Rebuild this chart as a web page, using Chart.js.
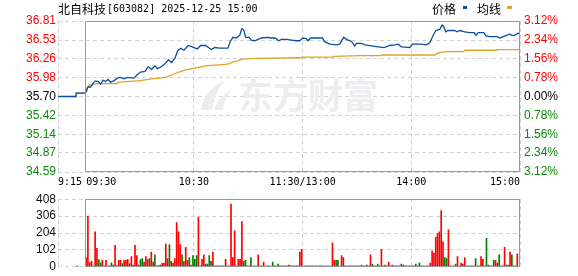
<!doctype html>
<html lang="zh">
<head>
<meta charset="utf-8">
<title>北自科技 分时</title>
<style>
  * { margin: 0; padding: 0; }
  body { width: 578px; height: 276px; background: #fff; position: relative; overflow: hidden; }
  #priceChart { position: absolute; left: 0; top: 0; }
  #volumeChart { position: absolute; left: 0; top: 190px; }
</style>
</head>
<body>
<canvas id="priceChart" width="578" height="190"></canvas>
<canvas id="volumeChart" width="578" height="86"></canvas>
<script src="https://cdn.jsdelivr.net/npm/chart.js/dist/chart.umd.min.js"></script>
<script>
// setup
const stockName = '北自科技';
const stockInfo = '[603082] 2025-12-25 15:00';
const preClose = 35.70;

// minutes after 9:30 (negative = call auction from 9:15)
const priceTimes = [-15, -5, -5, 0, 0.6, 1.5, 3, 4.2, 5.7, 7.2, 8.5, 9.8, 11.2, 12.7, 14, 15.8, 17.7, 19.5, 21.4, 23.2,
  26.9, 28.7, 30.6, 33, 34.8, 36.7, 38.5, 39.8, 42.2, 44, 45.9, 47.7, 49.5, 51, 52.7, 54.5, 56.9, 59.1, 61.9, 63.7,
  66.5, 69.6, 71.5, 74.2, 78.8, 80.1, 81.6, 83.5, 85.3, 86.5, 87.5, 88.6, 90.5, 91.7, 93.6, 95.4, 97.3, 100.9, 102.5, 105,
  106.8, 108.3, 111, 113.8, 116.5, 118.4, 120.2, 122, 123, 124.5, 131, 131.9, 135, 138.7, 140.5, 142.7, 144.2, 147, 148.8, 149.7,
  152.5, 154.3, 158.9, 161.7, 165, 168.1, 170.9, 172.7, 174.6, 179.2, 180.7, 185, 188.4, 190.2, 192.1, 193.6, 195.8, 197, 197.9, 199,
  200.4, 204, 205.3, 206.8, 209.6, 212.3, 214.8, 215.7, 216.9, 220, 221.2, 223.4, 227.1, 228.9, 230.7, 232.6, 234.4, 235.3, 237, 239, 240];
const priceValues = [35.70, 35.70, 35.75, 35.75, 35.77, 35.84, 35.84, 35.89, 35.93, 35.92, 35.88, 35.94, 35.92, 35.95, 35.91, 35.93, 35.97, 35.98, 35.96, 35.98,
  35.97, 36.02, 36.06, 36.07, 36.14, 36.10, 36.15, 36.11, 36.14, 36.18, 36.24, 36.20, 36.26, 36.37, 36.41, 36.38, 36.45, 36.43, 36.40, 36.45,
  36.45, 36.39, 36.42, 36.41, 36.41, 36.51, 36.57, 36.56, 36.60, 36.70, 36.68, 36.57, 36.57, 36.53, 36.52, 36.54, 36.56, 36.57, 36.56, 36.56,
  36.52, 36.54, 36.54, 36.53, 36.52, 36.52, 36.56, 36.55, 36.52, 36.56, 36.56, 36.51, 36.47, 36.46, 36.47, 36.57, 36.54, 36.51, 36.44, 36.48,
  36.48, 36.46, 36.44, 36.43, 36.42, 36.45, 36.46, 36.47, 36.43, 36.42, 36.47, 36.47, 36.46, 36.49, 36.60, 36.67, 36.69, 36.75, 36.73, 36.65,
  36.67, 36.67, 36.65, 36.67, 36.65, 36.64, 36.64, 36.60, 36.64, 36.64, 36.59, 36.58, 36.58, 36.56, 36.58, 36.60, 36.62, 36.60, 36.60, 36.63, 36.63];

const avgTimes = [-7, -5, -5, 0, 1, 2, 3.9, 6.7, 17.7, 18.6, 28.8, 37, 44.4, 48, 51.8, 55.4, 59.1, 62.8, 66.5, 75.7,
  79.4, 81.6, 83.5, 87.1, 94.5, 119.4, 120.2, 136.8, 137.8, 151.6, 163, 164, 193, 194, 195.8, 200.4, 209, 209.5, 227, 227.5, 240];
const avgValues = [35.70, 35.70, 35.75, 35.75, 35.82, 35.86, 35.88, 35.89, 35.89, 35.91, 35.93, 35.96, 35.98, 36.02, 36.06, 36.09, 36.11, 36.13, 36.15, 36.17,
  36.18, 36.21, 36.22, 36.25, 36.26, 36.27, 36.28, 36.28, 36.29, 36.30, 36.30, 36.31, 36.31, 36.33, 36.35, 36.36, 36.36, 36.38, 36.38, 36.39, 36.39];

// one bar per minute from 9:30, r = up (red), g = down (green)
const volumes = [
  56, 306, 24, 33, 6, 211, 111, 43, 24, 39,
  6, 39, 6, 6, 24, 11, 130, 6, 39, 39,
  19, 37, 39, 45, 19, 61, 11, 130, 67, 11,
  43, 50, 28, 61, 43, 50, 89, 28, 72, 6,
  8, 11, 22, 22, 139, 50, 134, 33, 22, 50,
  267, 211, 134, 72, 33, 117, 39, 56, 11, 67,
  45, 67, 300, 6, 45, 72, 17, 17, 67, 33,
  89, 6, 6, 6, 6, 6, 6, 45, 6, 6,
  378, 56, 217, 6, 45, 45, 273, 33, 39, 6,
  6, 56, 4, 6, 4, 72, 6, 6, 28, 4,
  6, 6, 4, 28, 6, 6, 17, 6, 6, 6,
  6, 6, 11, 6, 6, 6, 6, 6, 89, 106,
  4, 6, 6, 6, 6, 6, 4, 6, 6, 6,
  6, 6, 4, 6, 6, 4, 145, 39, 39, 39,
  5, 67, 56, 6, 6, 6, 6, 6, 6, 6,
  6, 6, 11, 6, 6, 11, 6, 72, 17, 6,
  6, 17, 6, 106, 6, 11, 6, 28, 6, 11,
  6, 6, 6, 6, 17, 11, 6, 6, 6, 6,
  6, 6, 17, 6, 22, 6, 6, 4, 6, 6,
  22, 95, 83, 178, 200, 211, 339, 150, 56, 50,
  223, 6, 4, 6, 17, 61, 6, 22, 17, 56,
  6, 6, 6, 6, 6, 50, 6, 6, 61, 45,
  6, 172, 11, 6, 6, 39, 39, 22, 72, 6,
  6, 117, 11, 11, 89, 72, 6, 6, 78];
const volumeSides = [
  'rrrrrrrggr', 'grrggrrgrr', 'grrrgrrrrr', 'ggrrrgrrgr', 'rrrrrrggrr',
  'rrrgrrrgrg', 'ggrrrrgggg', 'rrrrggrrrg', 'rrrgrrrggr', 'rggrgrgrrg',
  'rrrgrrgrrr', 'rrrgrrrrrr', 'rrgrrggrrr', 'ggrrrrrrgg', 'rrrggrgrrg',
  'rrrgrgrrgr', 'rgrrgrrrgr', 'grrrgrrrgr', 'rrgrgrgrrr', 'rrrrrrrrgg',
  'rrrrgrrrrr', 'rrrrrgrrrr', 'rggrggrrgr', 'rrrrrgrrr'].join('');
const auctionVolume = 6;   // 9:25
const auctionTime = -5;

const priceLabels = ['36.81', '36.53', '36.26', '35.98', '35.70', '35.42', '35.14', '34.87', '34.59'];
const percentLabels = ['3.12%', '2.34%', '1.56%', '0.78%', '0.00%', '0.78%', '1.56%', '2.34%', '3.12%'];
const volumeLabels = ['408', '306', '204', '102', '0'];
const timeLabels = ['9:15', '09:30', '10:30', '11:30/13:00', '14:00', '15:00'];
const timeTicks = [-15, 0, 60, 120, 180, 240];
const timeAlign = ['left', 'left', 'center', 'center', 'center', 'right'];

const RED = '#ff0000';
const GREEN = '#0a8a0a';
const GRID = '#d2d2d2';
const FRAME = '#9a9a9a';
const LABEL_FONT = { family: '"Liberation Sans", Arial, sans-serif', size: 12 };

function labelColor(v) {
  if (Math.abs(v - preClose) < 0.005) return '#000';
  return v > preClose ? RED : GREEN;
}

// solid box around the continuous-trading part
const framePlugin = {
  id: 'frame',
  afterDatasetsDraw(chart) {
    const { ctx, chartArea, scales } = chart;
    const l = Math.round(scales.x.getPixelForValue(0)) + 0.5;
    const r = Math.round(scales.x.getPixelForValue(240)) - 0.5;
    const t = Math.round(chartArea.top) + 0.5;
    const b = Math.round(chartArea.bottom) - 0.5;
    ctx.save();
    ctx.strokeStyle = FRAME;
    ctx.lineWidth = 1;
    ctx.strokeRect(l, t, r - l, b - t);
    ctx.restore();
  }
};

const watermarkPlugin = {
  id: 'watermark',
  beforeDatasetsDraw(chart) {
    const { ctx } = chart;
    ctx.save();
    ctx.fillStyle = '#ededf0';
    // rough swoosh logo
    ctx.beginPath();
    ctx.moveTo(201, 110);
    ctx.quadraticCurveTo(204, 90, 224, 81);
    ctx.quadraticCurveTo(214, 94, 212, 110);
    ctx.closePath();
    ctx.fill();
    ctx.beginPath();
    ctx.moveTo(214, 110);
    ctx.quadraticCurveTo(218, 97, 231, 90);
    ctx.quadraticCurveTo(224, 100, 223, 110);
    ctx.closePath();
    ctx.fill();
    ctx.font = 'bold 35px "Noto Sans CJK SC"';
    ctx.textBaseline = 'middle';
    ctx.fillText('东方财富', 238, 96);
    ctx.restore();
  }
};

const headerPlugin = {
  id: 'header',
  afterDraw(chart) {
    const { ctx, scales } = chart;
    ctx.save();
    ctx.fillStyle = '#000';
    ctx.textBaseline = 'middle';
    ctx.font = '12px "Noto Sans CJK SC"';
    ctx.fillText(stockName, 58, 9);
    ctx.font = '10px "DejaVu Sans Mono"';
    ctx.fillText(stockInfo, 107, 9);

    // legend: text then marker
    ctx.font = '12px "Noto Sans CJK SC"';
    ctx.fillText('价格', 432, 9);
    ctx.fillText('均线', 477, 9);
    ctx.fillStyle = chart.data.datasets[0].borderColor;
    ctx.fillRect(463, 6, 4, 3);
    ctx.fillStyle = chart.data.datasets[1].borderColor;
    ctx.fillRect(507, 6, 5, 3);

    // time axis labels
    ctx.fillStyle = '#000';
    ctx.font = '10px "DejaVu Sans Mono"';
    timeTicks.forEach((t, i) => {
      ctx.textAlign = timeAlign[i];
      let x = scales.x.getPixelForValue(t);
      if (i === 1) x += 1;
      ctx.fillText(timeLabels[i], x, 182);
    });
    ctx.restore();
  }
};

const toPoints = (xs, ys) => xs.map((x, i) => ({ x, y: ys[i] }));

const xScale = (afterHeight) => ({
  type: 'linear',
  min: -15,
  max: 240,
  offset: false,
  afterBuildTicks: s => { s.ticks = timeTicks.map(v => ({ value: v })); },
  ticks: { display: false },
  grid: { color: GRID, drawTicks: false, offset: false },
  border: { display: false, dash: [4, 3] },
  afterFit: s => { s.height = afterHeight; }
});

// price chart
const priceChart = new Chart(document.getElementById('priceChart'), {
  type: 'line',
  data: {
    datasets: [
      { label: '价格', data: toPoints(priceTimes, priceValues), borderColor: '#0d4f9f', borderWidth: 1.3, pointRadius: 0, tension: 0, yAxisID: 'y' },
      { label: '均线', data: toPoints(avgTimes, avgValues), borderColor: '#e0a326', borderWidth: 1.3, pointRadius: 0, tension: 0, yAxisID: 'y' }
    ]
  },
  options: {
    responsive: false,
    animation: false,
    devicePixelRatio: 1,
    layout: { padding: { top: 21 } },
    plugins: { legend: { display: false }, tooltip: { enabled: false } },
    scales: {
      x: xScale(18),
      y: {
        position: 'left',
        min: 34.59,
        max: 36.81,
        afterBuildTicks: s => { s.ticks = priceLabels.map(v => ({ value: parseFloat(v) })).reverse(); },
        ticks: {
          autoSkip: false,
          padding: 2,
          font: LABEL_FONT,
          color: c => labelColor(c.tick.value),
          callback: v => priceLabels[priceLabels.indexOf(v.toFixed(2))]
        },
        grid: { color: GRID, drawTicks: false },
        border: { display: false, dash: [4, 3] },
        afterFit: s => { s.width = 58; }
      },
      y1: {
        position: 'right',
        min: 34.59,
        max: 36.81,
        afterBuildTicks: s => { s.ticks = priceLabels.map(v => ({ value: parseFloat(v) })).reverse(); },
        ticks: {
          autoSkip: false,
          padding: 4,
          font: LABEL_FONT,
          color: c => labelColor(c.tick.value),
          callback: v => percentLabels[priceLabels.indexOf(v.toFixed(2))]
        },
        grid: { display: false, drawTicks: false },
        border: { display: false },
        afterFit: s => { s.width = 58; }
      }
    }
  },
  plugins: [watermarkPlugin, framePlugin, headerPlugin]
});

// volume chart
const volumeData = [{ x: auctionTime + 0.5, y: auctionVolume }]
  .concat(volumes.map((v, i) => ({ x: i + 0.5, y: v })));
const volumeColors = [RED].concat(volumes.map((v, i) => volumeSides[i] === 'g' ? '#008000' : RED));

const volumeChart = new Chart(document.getElementById('volumeChart'), {
  type: 'bar',
  data: {
    datasets: [{
      label: '成交量',
      data: volumeData,
      backgroundColor: volumeColors,
      barThickness: 1,
      borderWidth: 0
    }]
  },
  options: {
    responsive: false,
    animation: false,
    devicePixelRatio: 1,
    layout: { padding: { top: 6, right: 58 } },
    plugins: { legend: { display: false }, tooltip: { enabled: false } },
    scales: {
      x: xScale(6),
      y: {
        position: 'left',
        min: 0,
        max: 408,
        afterBuildTicks: s => { s.ticks = volumeLabels.map(v => ({ value: Number(v) })).reverse(); },
        ticks: {
          autoSkip: false,
          padding: 2,
          font: LABEL_FONT,
          color: '#111',
          callback: v => String(v)
        },
        grid: { color: GRID, drawTicks: false },
        border: { display: false, dash: [4, 3] },
        afterFit: s => { s.width = 58; }
      }
    }
  },
  plugins: [framePlugin]
});
</script>
</body>
</html>
